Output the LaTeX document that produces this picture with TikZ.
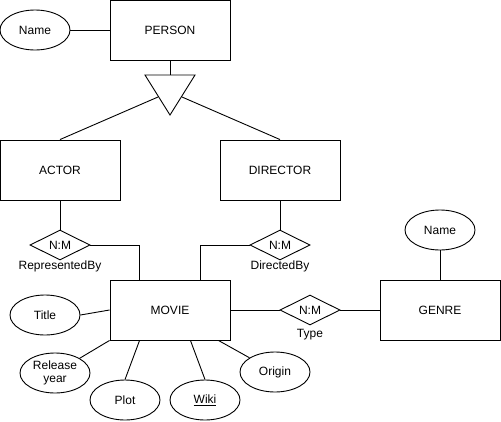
\documentclass[tikz,border=0pt]{standalone}
\usepackage{fontspec}
\setmainfont{Liberation Sans}
\usetikzlibrary{shapes.geometric,calc}
\begin{document}
\begin{tikzpicture}[x=1pt,y=-1pt,line width=0.9pt,
  every node/.style={font=\fontsize{12}{13.5}\selectfont},
  entity/.style={draw,rectangle,minimum width=120pt,minimum height=60pt,inner sep=0pt},
  attr/.style={draw,ellipse,minimum width=70pt,minimum height=40pt,inner sep=0pt,align=center},
  rel/.style={draw,diamond,minimum width=60pt,minimum height=30pt,inner sep=0pt,aspect=2},
  lbl/.style={inner sep=0pt}]
\useasboundingbox (0,0) rectangle (501,421);
% entities
\node[entity] (person) at (170,30) {PERSON};
\node[entity] (actor) at (60,170) {ACTOR};
\node[entity] (director) at (280,170) {DIRECTOR};
\node[entity] (movie) at (170,310) {MOVIE};
\node[entity] (genre) at (440,310) {GENRE};
% attributes
\node[attr] (pname) at (35,30) {Name};
\node[attr] (gname) at (440,230) {Name};
\node[attr] (title) at (45,315) {Title};
\node[attr] (release) at (55,373) {Release\\year};
\node[attr] (plot) at (125,400) {Plot};
\node[attr] (wiki) at (205,400) {\underline{Wiki}};
\node[attr] (origin) at (275,372) {Origin};
% relationships
\node[rel] (repby) at (60,245) {N:M};
\node[rel] (dirby) at (280,245) {N:M};
\node[rel] (type) at (310,310) {N:M};
\node[lbl] (repbyl) at (60,266) {RepresentedBy};
\node[lbl] (dirbyl) at (280,266) {DirectedBy};
\node[lbl] (typel) at (310,335) {Type};
% ISA triangle
\coordinate (tl) at (145,75);
\coordinate (tr) at (195,75);
\coordinate (tb) at (170,115);
\coordinate (tt) at (170,75);
\coordinate (tls) at (158,97);
\coordinate (trs) at (182,97);
\draw (tl) -- (tr) -- (tb) -- cycle;
\draw (person.south) -- (tt);
\draw (tls) -- (actor.north);
\draw (trs) -- (director.north);
% attribute links
\draw (pname) -- (person);
\draw (gname) -- (genre);
\draw (title.east) -- (movie.west);
\draw (release) -- (movie.south west);
\draw (plot.north) -- ([xshift=30pt]movie.south west);
\draw (wiki.north) -- ([xshift=-40pt]movie.south east);
\draw (origin) -- ([xshift=-12pt]movie.south east);
% relationship links
\draw (actor.south) -- (repby.north);
\draw (repby.east) -| ([xshift=30pt]movie.north west);
\draw (director.south) -- (dirby.north);
\draw (dirby.west) -| ([xshift=-30pt]movie.north east);
\draw (movie.east) -- (type.west);
\draw (type.east) -- (genre.west);
\end{tikzpicture}
\end{document}
